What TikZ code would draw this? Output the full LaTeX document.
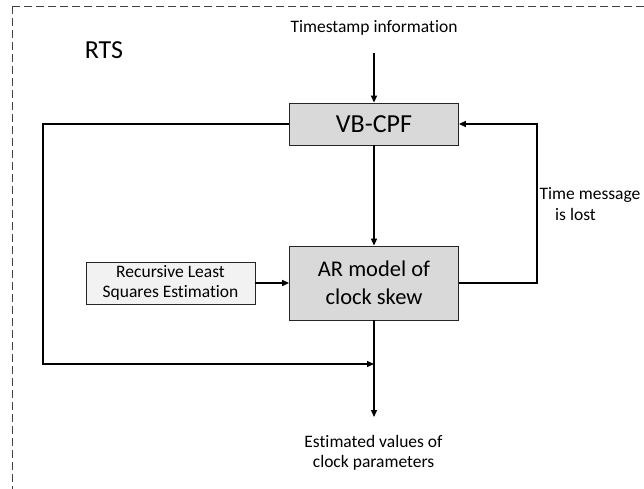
\documentclass[tikz,border=0pt]{standalone}
\usepackage{fontspec}
\setmainfont{Carlito}[RawFeature={-liga;-clig;-calt;-dlig}]
\usetikzlibrary{arrows.meta}
\definecolor{boxgray}{HTML}{D9D9D9}
\definecolor{lightbox}{HTML}{F2F2F2}
\definecolor{framegray}{HTML}{404040}
\tikzset{
  block/.style={draw=black!85, line width=0.8pt, inner sep=0pt, align=center},
  flow/.style={line width=1.3pt, -{Triangle[length=7pt,width=6pt]}},
  small/.style={font=\fontsize{17.5}{20.5}\selectfont, align=center, inner sep=0pt},
}
\begin{document}
\begin{tikzpicture}[x=1pt, y=-1pt]
  \useasboundingbox (0,0) rectangle (644,489);
  \clip (0,0) rectangle (644,489);
  \fill[white] (0,0) rectangle (644,489);

  % dashed system frame (runs past the right and bottom edges)
  \draw[framegray, line width=0.8pt, dash pattern=on 8pt off 4pt] (12,6) rectangle (700,540);

  \node[font=\fontsize{26}{30}\selectfont, inner sep=0pt] (rts) at (104,50) {RTS};

  % blocks
  \node[block, fill=boxgray, minimum width=169pt, minimum height=42pt,
        font=\fontsize{26}{30}\selectfont] (vb) at (374,124) {VB-CPF};
  \node[block, fill=boxgray, minimum width=169pt, minimum height=74pt,
        font=\fontsize{22.5}{28}\selectfont] (ar) at (374,283) {AR model of\\clock skew};
  \node[block, fill=lightbox, minimum width=169pt, minimum height=42pt,
        font=\fontsize{17.5}{20.5}\selectfont] (rls) at (170.5,283) {Recursive Least\\Squares Estimation};

  % labels
  \node[small] (ts) at (374,28) {Timestamp information};
  \node[small] (lost) at (590,204) {Time message\\is lost\hspace*{29pt}};
  \node[small] (est) at (373.5,453) {Estimated values of\\clock parameters};

  % connectors
  \coordinate (tsin) at (374,53);
  \coordinate (join) at (374,364);
  \coordinate (outend) at (374,417);

  \draw[flow] (tsin) -- (vb.north);
  \draw[flow] (vb.south) -- (ar.north);
  \draw[flow] (rls.east) -- (ar.west);
  \draw[flow] (ar.east) -- ++(78,0) |- (vb.east);
  \draw[flow] (vb.west) -- ++(-246,0) |- (join);
  \draw[flow] (ar.south) -- (outend);
\end{tikzpicture}
\end{document}
